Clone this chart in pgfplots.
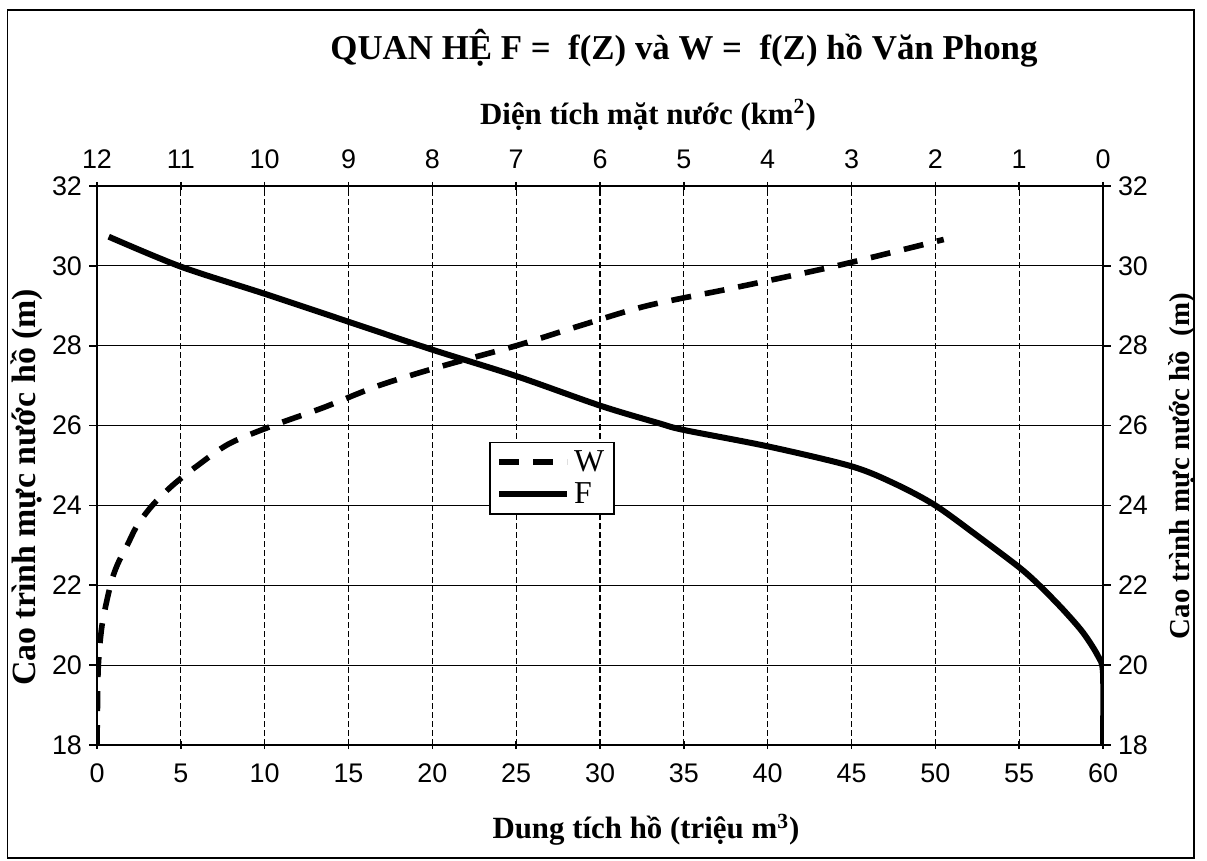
\documentclass[border=0pt]{standalone}
\usepackage{fontspec}
\setmainfont{Liberation Serif}
\newfontfamily\arialf{Liberation Sans}
\usepackage{pgfplots}
\pgfplotsset{compat=1.18}
\usepackage{pgfplotstable}

% W = f(Z): dung tich ho (trieu m3) vs cao trinh (m)
\pgfplotstableread{
V Z
0.00 18.0
0.03 19.0
0.08 20.0
0.30 21.0
0.80 22.0
1.20 22.5
1.80 23.0
2.40 23.5
3.30 24.0
4.50 24.5
6.00 25.0
7.90 25.55
10.5 26.0
13.5 26.45
16.8 27.0
20.5 27.48
25.0 28.0
28.8 28.5
32.8 29.0
38.0 29.45
44.1 30.0
50.5 30.66
}\Wdata

% F = f(Z): dien tich mat nuoc (km2) vs cao trinh (m)
\pgfplotstableread{
A Z
11.86 30.73
11.0 29.98
10.0 29.30
9.0 28.60
8.0 27.90
7.0 27.24
6.0 26.50
5.3 26.06
5.0 25.89
4.0 25.48
3.0 24.98
2.48 24.54
2.0 24.00
1.48 23.21
1.0 22.45
0.76 22.00
0.48 21.40
0.24 20.82
0.06 20.23
0.0 19.80
0.0 18.00
}\Fdata

\begin{document}
\begin{tikzpicture}
\useasboundingbox (0,0) rectangle (603.5bp,430.5bp);
\draw[line width=0.8bp] (3.8bp,1.5bp) rectangle (597bp,425.5bp);
\pgfplotsset{common/.style={
  scale only axis, width=503bp, height=279.5bp,
  at={(48.5bp,58bp)}, anchor=south west,
  ymin=18, ymax=32, ytick={18,20,...,32},
  /pgf/number format/assume math mode=true,
  tick label style={font=\arialf\fontsize{13.5}{14}\selectfont},
  major tick length=4bp,
  xtick align=center, ytick align=outside,
  tick style={black, line width=0.8bp},
  axis line style={line width=1.2bp},
}}

\begin{axis}[common,
  xmin=0, xmax=12, x dir=reverse, xtick={0,...,12},
  xtick pos=right, xticklabel pos=right,
  ytick pos=right, yticklabel pos=right,
  xticklabel style={yshift=3bp},
  title={QUAN HỆ F =\ \ f(Z) và W =\ \ f(Z) hồ Văn Phong},
  title style={at={(axis description cs:0.5835,1.2254)}, anchor=center, font=\bfseries\fontsize{17.5}{20}\selectfont},
  xlabel={Diện tích mặt nước (km\textsuperscript{2})},
  xlabel style={at={(axis description cs:0.5477,1.127)}, anchor=center, font=\bfseries\fontsize{15.5}{17}\selectfont},
  ylabel={Cao trình mực nước hồ\ \ (m)},
  ylabel style={at={(axis description cs:1.0785,0.499)}, anchor=center, font=\bfseries\fontsize{14.5}{16}\selectfont},
]
\addplot[black, line width=3bp, smooth, tension=0.5] table[x=A, y=Z] {\Fdata};
\end{axis}

\begin{axis}[common,
  xmin=0, xmax=60, xtick={0,5,...,60},
  xtick pos=left, xticklabel pos=left,
  ytick pos=left, yticklabel pos=left,
  xticklabel style={yshift=-4bp},
  grid=major,
  x grid style={black, line width=0.6bp, dash pattern=on 3bp off 1.5bp},
  y grid style={black, line width=0.6bp},
  xlabel={Dung tích hồ (triệu m\textsuperscript{3})},
  xlabel style={at={(axis description cs:0.5457,-0.152)}, anchor=center, font=\bfseries\fontsize{15.5}{17}\selectfont},
  ylabel={Cao trình mực nước hồ (m)},
  ylabel style={at={(axis description cs:-0.0700,0.461)}, anchor=center, font=\bfseries\fontsize{17}{19}\selectfont},
  legend style={at={(axis cs:23.4,25.6)}, anchor=north west, draw=black, line width=0.8bp, fill=white,
    font=\fontsize{16}{18}\selectfont, inner xsep=3bp, inner ysep=2bp, row sep=0bp},
  legend image code/.code={\draw[#1] (0bp,0bp) -- (34bp,0bp);},
  legend cell align=left,
]
\addplot[black, line width=2.8bp, dash pattern=on 10bp off 7bp, smooth, tension=0.5] table[x=V, y=Z] {\Wdata};
\addlegendentry{W}
\addlegendimage{black, line width=3bp}
\addlegendentry{F}
\end{axis}
\end{tikzpicture}
\end{document}
